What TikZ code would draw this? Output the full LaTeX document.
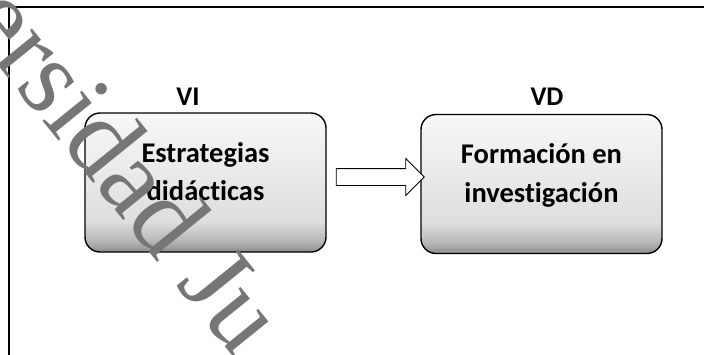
\documentclass[tikz,border=0pt]{standalone}
\usepackage{fontspec}
\setmainfont[Ligatures={NoCommon,NoContextual}]{Carlito}
\newfontfamily\wmfont{Liberation Serif}
\usetikzlibrary{shapes.arrows}
\definecolor{wmgray}{HTML}{767676}
\pgfdeclareverticalshading{boxshade}{100bp}{color(0bp)=(black!45); color(25bp)=(black!45); color(29bp)=(black!28); color(36bp)=(black!13); color(55bp)=(black!8); color(75bp)=(black!3); color(100bp)=(black!3)}
\tikzset{
  box/.style={draw=black, line width=1.4pt, rounded corners=15pt, shading=boxshade,
    minimum width=241pt, minimum height=139pt, inner sep=0pt},
  boxtxt/.style={font=\bfseries\fontsize{28.5}{38}\selectfont, anchor=base, inner sep=0pt},
  vlbl/.style={font=\bfseries\fontsize{27}{30}\selectfont, anchor=base, inner sep=0pt},
  blockarrow/.style={single arrow, draw=black, fill=white, line width=0.8pt,
    minimum height=88pt, inner sep=8pt, single arrow head extend=10pt,
    single arrow tip angle=90},
  frame/.style={draw=black, line width=1.8pt},
  wm/.style={font=\wmfont\fontsize{108}{108}\selectfont, text=wmgray, inner sep=0pt,
    anchor=base west, rotate=-51}
}
\begin{document}
\begin{tikzpicture}[x=1pt, y=-1pt]
\useasboundingbox (0,0) rectangle (704,354);
\clip (0,0) rectangle (704,354);
\fill[white] (0,0) rectangle (704,354);
\coordinate (fa) at (9,360);
\coordinate (fb) at (9,7);
\coordinate (fc) at (710,7);
\draw[frame] (fa) -- (fb) -- (fc);
\node[box] (b1) at (205.5,182.5) {};
\node[box] (b2) at (541.5,184) {};
\node[boxtxt] (t1a) at (205.5,162) {Estrategias};
\node[boxtxt] (t1b) at (205.5,200) {didácticas};
\node[boxtxt] (t2a) at (541.5,163) {Formación en};
\node[boxtxt] (t2b) at (541.5,202) {investigación};
\node[vlbl] (vi) at (188,105) {VI};
\node[vlbl] (vd) at (547,105) {VD};
\node[blockarrow] (arr) at (376,177) {};
\node[wm] (wmark) at (-38,21) {ersidad Ju};
\end{tikzpicture}
\end{document}
